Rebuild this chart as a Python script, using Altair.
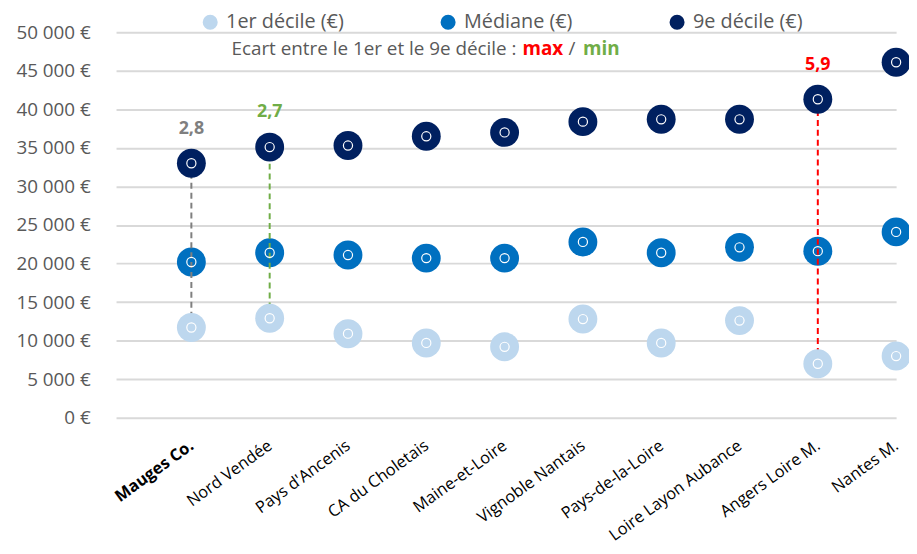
import json
import altair as alt
import pandas as pd

# ---------------- data ----------------
territoires = ["Mauges Co.", "Nord Vendée", "Pays d'Ancenis", "CA du Choletais",
               "Maine-et-Loire", "Vignoble Nantais", "Pays-de-la-Loire",
               "Loire Layon Aubance", "Angers Loire M.", "Nantes M."]
decile1 = [11700, 12900, 10900, 9700, 9200, 12800, 9700, 12600, 7000, 8000]
mediane = [20200, 21400, 21100, 20700, 20700, 22800, 21400, 22100, 21600, 24100]
decile9 = [33000, 35100, 35300, 36500, 37000, 38400, 38700, 38700, 41300, 46100]
series = ["1er décile (€)", "Médiane (€)", "9e décile (€)"]
series_colors = ["#BDD7EE", "#0070C0", "#002060"]

ecart_territoires = ["Mauges Co.", "Nord Vendée", "Angers Loire M."]
ecart_labels = ["2,8", "2,7", "5,9"]
ecart_colors = ["#7F7F7F", "#70AD47", "#FF0000"]

y_ticks = list(range(0, 50001, 5000))

FONT = "Open Sans"
GREY = "#595959"

# ---------------- tables ----------------
rows = []
for i, t in enumerate(territoires):
    for s, vals in zip(series, [decile1, mediane, decile9]):
        rows.append({"idx": i, "territoire": t, "serie": s, "valeur": vals[i]})
df = pd.DataFrame(rows)

ecart_rows = []
for t, lab, col in zip(ecart_territoires, ecart_labels, ecart_colors):
    i = territoires.index(t)
    ecart_rows.append({"idx": i, "low": decile1[i], "high": decile9[i], "label": lab, "couleur": col})
df_ecart = pd.DataFrame(ecart_rows)

names_js = json.dumps(territoires, ensure_ascii=False)

x_axis = alt.Axis(
    values=list(range(len(territoires))),
    labelExpr=f"{names_js}[datum.value]",
    labelAngle=-36, labelAlign="right", labelBaseline="middle",
    labelFontSize=16.5, labelColor="#000000", labelFont=FONT,
    labelFontWeight={"condition": {"test": "datum.value == 0", "value": "bold"}, "value": "normal"},
    labelPadding=26, labelOverlap=False, labelLimit=300,
    grid=False, ticks=False, domain=False, title=None,
)
y_axis = alt.Axis(
    values=y_ticks,
    labelExpr="replace(format(datum.value, ',d'), ',', ' ') + ' €'",
    labelFontSize=19, labelColor=GREY, labelFont=FONT, labelPadding=26,
    grid=True, gridColor="#D9D9D9", gridWidth=2,
    ticks=False, domain=False, title=None,
)
x_scale = alt.Scale(domain=[-0.962, 9.0], nice=False, zero=False)
y_scale = alt.Scale(domain=[0, 50000], nice=False)


def X(field="idx"):
    return alt.X(f"{field}:Q", scale=x_scale, axis=x_axis)


def Y(field):
    return alt.Y(f"{field}:Q", scale=y_scale, axis=y_axis)


color_enc = alt.Color(
    "serie:N",
    scale=alt.Scale(domain=series, range=series_colors),
    legend=alt.Legend(
        orient="none", legendX=85, legendY=-20, direction="horizontal",
        title=None, symbolType="circle", symbolSize=230, symbolStrokeWidth=0,
        labelFontSize=20, labelColor=GREY, labelFont=FONT, labelOffset=6,
        columnPadding=95, padding=0, labelLimit=300,
    ),
)

base = alt.Chart(df)

median_pts = base.transform_filter(alt.datum.serie == series[1]).mark_point(
    shape="circle", filled=True, size=850, opacity=1
).encode(x=X(), y=Y("valeur"), color=color_enc)

rules = alt.Chart(df_ecart).mark_rule(strokeDash=[6, 4], strokeWidth=2).encode(
    x=X(), y=Y("low"), y2="high:Q", color=alt.Color("couleur:N", scale=None)
)

other_pts = base.transform_filter(alt.datum.serie != series[1]).mark_point(
    shape="circle", filled=True, size=850, opacity=1
).encode(x=X(), y=Y("valeur"), color=color_enc)

rings = base.mark_point(
    shape="circle", filled=False, size=85, stroke="white", strokeWidth=1.2, opacity=1
).encode(x=X(), y=Y("valeur"))

ecart_text = alt.Chart(df_ecart).mark_text(
    fontSize=18, fontWeight="bold", font=FONT, dy=-35, baseline="middle"
).encode(x=X(), y=Y("high"), text="label:N", color=alt.Color("couleur:N", scale=None))

one = alt.Data(values=[{}])
SUB = 19
sub1 = alt.Chart(one).mark_text(
    text="Ecart entre le 1er et le 9e décile :", fontSize=SUB, font=FONT, color=GREY,
    align="right", baseline="middle"
).encode(x=alt.value(404), y=alt.value(17))
sub2 = alt.Chart(one).mark_text(
    text="max", fontSize=SUB, font=FONT, color="#FF0000", fontWeight="bold",
    align="left", baseline="middle"
).encode(x=alt.value(410), y=alt.value(17))
sub3 = alt.Chart(one).mark_text(
    text="/", fontSize=SUB, font=FONT, color=GREY, align="center", baseline="middle"
).encode(x=alt.value(460), y=alt.value(17))
sub4 = alt.Chart(one).mark_text(
    text="min", fontSize=SUB, font=FONT, color="#70AD47", fontWeight="bold",
    align="left", baseline="middle"
).encode(x=alt.value(471), y=alt.value(17))

chart = alt.layer(
    median_pts, rules, other_pts, rings, ecart_text, sub1, sub2, sub3, sub4
).properties(
    width=787, height=389,
    autosize=alt.AutoSizeParams(type="none"),
    padding={"left": 109, "top": 22, "right": 13, "bottom": 127},
).configure(font=FONT, view=alt.ViewConfig(stroke=None))

chart.save("out.html", embed_options={"renderer": "svg", "actions": False})
